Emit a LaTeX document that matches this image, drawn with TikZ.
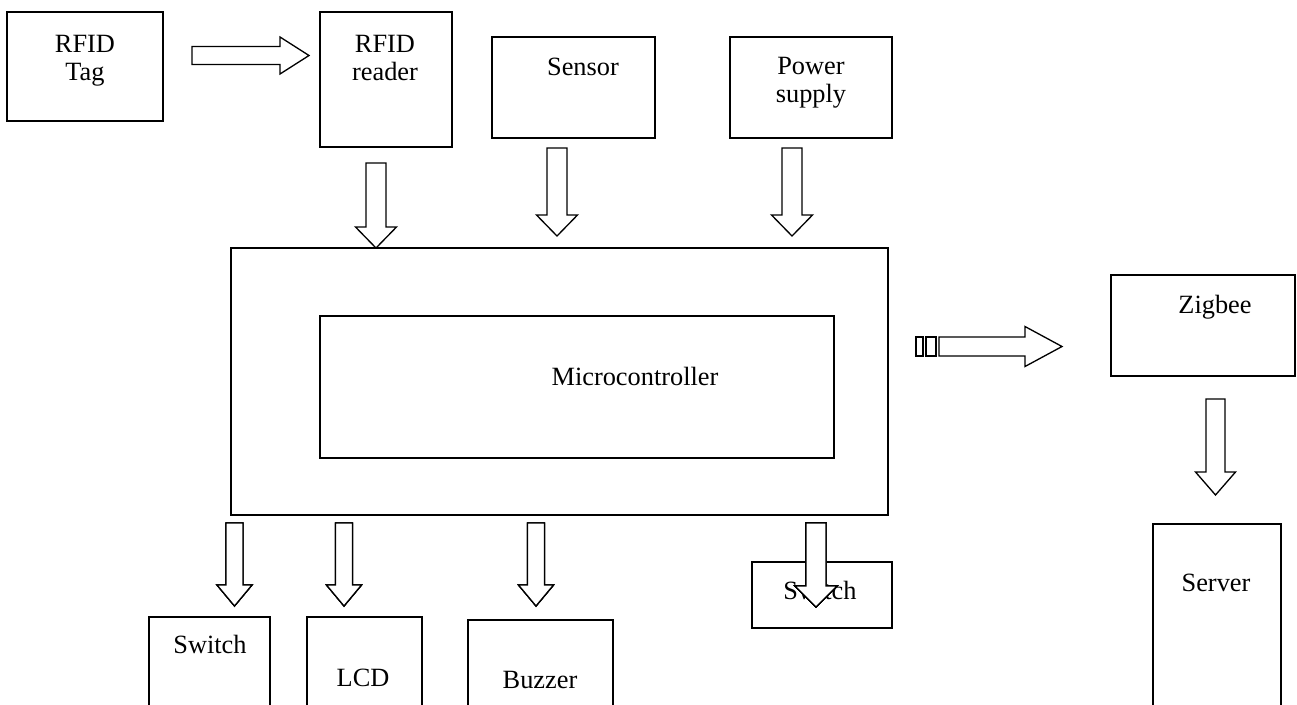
\documentclass[tikz,border=0pt]{standalone}
\usepackage{fontspec}
\setmainfont{Liberation Serif}
\usetikzlibrary{fit}
% block arrow: start, angle, length, head length, shaft half width, head half width
\newcommand{\fatarrow}[6]{%
  \draw[fatarrow, shift={#1}, rotate=#2] (0,-#5) -- ({#3-#4},-#5) -- ({#3-#4},-#6) -- (#3,0)
    -- ({#3-#4},#6) -- ({#3-#4},#5) -- (0,#5) -- cycle;}
\tikzset{
  box/.style={draw, line width=1pt, inner sep=0pt},
  txt/.style={inner sep=0pt, align=center, font=\fontsize{15}{16}\selectfont},
  fatarrow/.style={draw, fill=white, line width=0.75pt, line join=miter}
}
\begin{document}
\begin{tikzpicture}[x=0.02cm, y=-0.02cm]
	\useasboundingbox (0,0) rectangle (1297,704);
	\clip (0,0) rectangle (1297,704);
	% Khối vào
	\node[box, fit={(7,12) (163,121)}] (tag) {};
	\node[box, fit={(320,12) (452,147)}] (reader) {};
	\node[box, fit={(492,37) (655,138)}] (sensor) {};
	\node[box, fit={(730,37) (892,138)}] (power) {};
	\node[txt, anchor=north] (tagtext) at (85,35) {RFID\\Tag};
	\node[txt, anchor=north] (readertext) at (385,35) {RFID\\reader};
	\node[txt, anchor=base] (sensortext) at (583,75) {Sensor};
	\node[txt, anchor=north] (powertext) at (811,57) {Power\\supply};
	% Vi điều khiển
	\node[box, fit={(231,248) (888,515)}] (main) {};
	\node[box, fit={(320,316) (834,458)}] (micro) {};
	\node[txt, anchor=base] (microtext) at (635,385) {Microcontroller};
	% Zigbee và server
	\node[box, fit={(1111,275) (1295,376)}] (zigbee) {};
	\node[box, fit={(1153,524) (1281,730)}] (server) {};
	\node[txt, anchor=base] (zigbeetext) at (1215,313) {Zigbee};
	\node[txt, anchor=base] (servertext) at (1216,591) {Server};
	% Khối ra
	\node[box, fit={(149,617) (270,730)}] (switch) {};
	\node[box, fit={(307,617) (422,730)}] (lcd) {};
	\node[box, fit={(468,620) (613,730)}] (buzzer) {};
	\node[box, fit={(752,562) (892,628)}] (switchb) {};
	\node[txt, anchor=base] (switchtext) at (210,653) {Switch};
	\node[txt, anchor=base] (lcdtext) at (363,686) {LCD};
	\node[txt, anchor=base] (buzzertext) at (540,688) {Buzzer};
	\node[txt, anchor=base] (switchbtext) at (820,599) {Switch};
	% Mũi tên
	\fatarrow{(192,55.5)}{0}{117}{29}{9}{18.5}
	\foreach \ax/\ay/\len in {376/163/85, 557/148/88, 792/148/88}
	\fatarrow{(\ax,\ay)}{-90}{\len}{21}{10}{20.5}
	\foreach \ax in {234.5, 344, 536}
	\fatarrow{(\ax,523)}{-90}{83}{21}{8.5}{17.5}
	\fatarrow{(816,523)}{-90}{84}{21}{10}{21}
	\draw[fatarrow] (916,337) rectangle (923,356);
	\draw[fatarrow] (926,337) rectangle (936,356);
	\fatarrow{(939,346.5)}{0}{123}{37}{9.5}{20}
	\fatarrow{(1215.5,399)}{-90}{96}{23}{9.5}{20}
\end{tikzpicture}
\end{document}
